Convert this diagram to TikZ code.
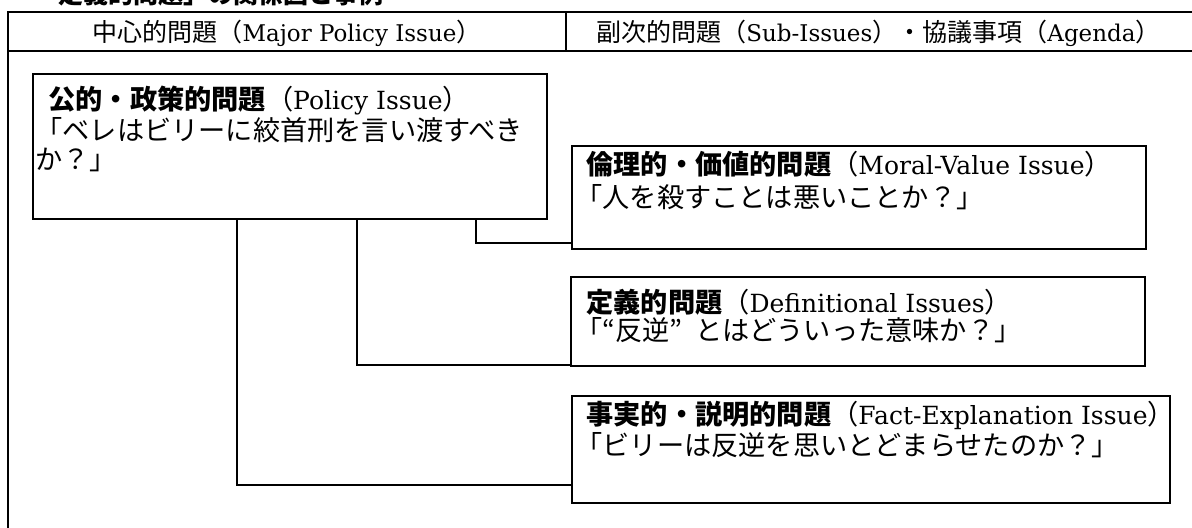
\documentclass[tikz,border=0pt]{standalone}
\usepackage{fontspec}
\usetikzlibrary{fit}
\setmainfont{DejaVu Serif}[Scale=0.92]
\newfontfamily\cjk{Noto Sans CJK JP}
\newcommand\jp[1]{{\cjk #1}}
\begin{document}
\begin{tikzpicture}[x=0.5pt,y=-0.5pt,
  frame/.style={line width=0.9pt},
  box/.style={draw,line width=0.9pt,inner sep=0pt},
  link/.style={line width=0.9pt},
  hd/.style={inner sep=0pt,font=\fontsize{12.5}{15}\selectfont},
  ttl/.style={anchor=base west,inner sep=0pt,font=\fontsize{13.6}{16}\selectfont},
  txt/.style={anchor=base west,inner sep=0pt,font=\fontsize{13.6}{16}\selectfont}]
\clip (0,0) rectangle (1192,527);
\fill[white] (0,0) rectangle (1192,527);
% cut-off caption at the top
\node[anchor=base west,inner sep=0pt,font=\fontsize{12.5}{15}\selectfont] (cap) at (33,3) {\jp{\bfseries 「定義的問題」の関係図と事例}};
% table frame
\draw[frame] (8,600) -- (8,12) -- (1250,12);
\draw[frame] (8,51) -- (1250,51);
\draw[frame] (566,12) -- (566,51);
\node[hd,anchor=base] (h1) at (287,41) {\jp{中心的問題（}Major Policy Issue\jp{）}};
\node[hd,anchor=base west] (h2) at (596,41) {\jp{副次的問題（}Sub-Issues\jp{）・協議事項（}Agenda\jp{）}};
% boxes
\node[box,fit={(33,74) (547,219)}] (policy) {};
\node[box,fit={(572,146) (1146,249)}] (moral) {};
\node[box,fit={(571,277) (1145,366)}] (def) {};
\node[box,fit={(572,396) (1170,503)}] (fact) {};
% texts
\node[ttl] (pt) at (48,109) {\jp{\bfseries 公的・政策的問題}\jp{（}Policy Issue\jp{）}};
\node[txt] (pl1) at (35,140) {\jp{「ベレはビリーに絞首刑を言い渡すべき}};
\node[txt] (pl2) at (35,169) {\jp{か？」}};
\node[ttl] (mt) at (586,174) {\jp{\bfseries 倫理的・価値的問題}\jp{（}Moral-Value Issue\jp{）}};
\node[txt] (ml) at (575,207) {\jp{「人を殺すことは悪いことか？」}};
\node[ttl] (dt) at (586,312) {\jp{\bfseries 定義的問題}\jp{（}Definitional Issues\jp{）}};
\node[txt] (dl) at (575,340) {\jp{「“反逆”\hspace{0.45em}とはどういった意味か？」}};
\node[ttl] (ft) at (586,424) {\jp{\bfseries 事実的・説明的問題}\jp{（}Fact-Explanation Issue\jp{）}};
\node[txt] (fl) at (575,455) {\jp{「ビリーは反逆を思いとどまらせたのか？」}};
% connectors
\coordinate (cM) at (476,243);
\coordinate (cD) at (357,365);
\coordinate (cF) at (237,485);
\draw[link] (policy.south -| cM) |- (moral.west |- cM);
\draw[link] (policy.south -| cD) |- (def.west |- cD);
\draw[link] (policy.south -| cF) |- (fact.west |- cF);
\end{tikzpicture}
\end{document}
